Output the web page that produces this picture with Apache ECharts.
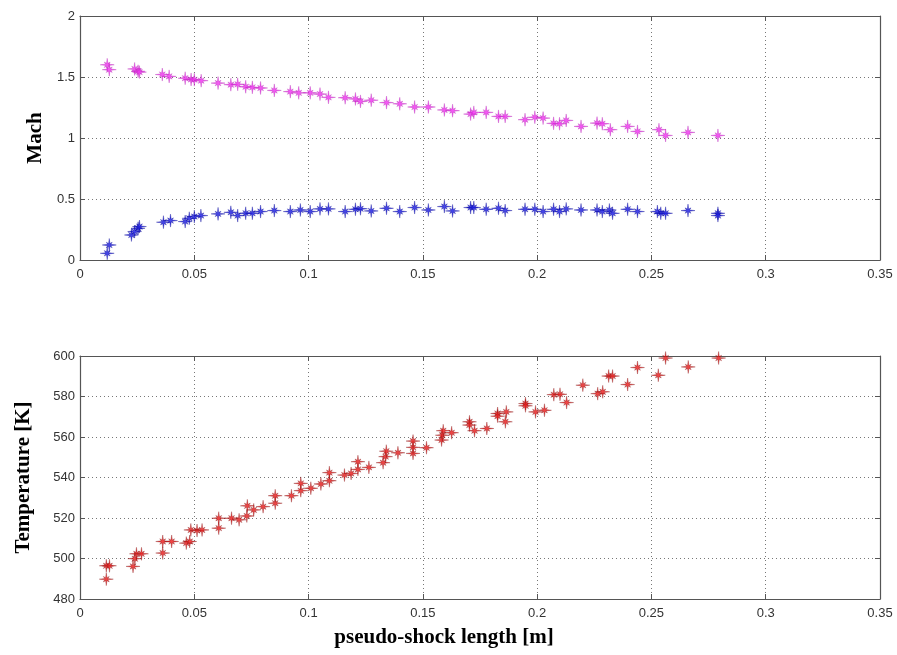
<!DOCTYPE html>
<html>
<head>
<meta charset="utf-8">
<script src="https://cdn.jsdelivr.net/npm/echarts@6/dist/echarts.min.js"></script>
<style>
  html, body { margin: 0; padding: 0; background: #fff; }
  #chart { width: 897px; height: 655px; }
</style>
</head>
<body>
<div id="chart"></div>
<script>
const machHighX = [0.0119, 0.0128, 0.0239, 0.0254, 0.026, 0.036, 0.039, 0.046, 0.0486, 0.05, 0.053, 0.0604, 0.066, 0.069, 0.0725, 0.0754, 0.079, 0.085, 0.092, 0.0957, 0.1007, 0.105, 0.1087, 0.116, 0.1205, 0.1227, 0.1274, 0.1341, 0.1399, 0.1464, 0.1524, 0.1594, 0.163, 0.1709, 0.1723, 0.1777, 0.1831, 0.186, 0.1947, 0.199, 0.2026, 0.2072, 0.2098, 0.2127, 0.2192, 0.2262, 0.2285, 0.232, 0.2396, 0.2439, 0.2533, 0.2562, 0.266, 0.2791];
const machHighY = [1.60, 1.56, 1.566, 1.547, 1.54, 1.52, 1.505, 1.49, 1.48, 1.478, 1.47, 1.45, 1.437, 1.44, 1.42, 1.415, 1.41, 1.39, 1.38, 1.37, 1.37, 1.36, 1.333, 1.33, 1.32, 1.30, 1.31, 1.29, 1.28, 1.254, 1.254, 1.23, 1.224, 1.196, 1.21, 1.21, 1.177, 1.177, 1.15, 1.17, 1.163, 1.12, 1.117, 1.144, 1.095, 1.122, 1.117, 1.068, 1.095, 1.054, 1.068, 1.021, 1.046, 1.021];

const machLowX = [0.0119, 0.0128, 0.0225, 0.0239, 0.0254, 0.026, 0.0365, 0.0396, 0.046, 0.0478, 0.05, 0.0529, 0.0604, 0.066, 0.069, 0.0725, 0.0754, 0.079, 0.085, 0.092, 0.0964, 0.1007, 0.105, 0.1087, 0.116, 0.1205, 0.1227, 0.1274, 0.1341, 0.1399, 0.1464, 0.1524, 0.1594, 0.163, 0.1709, 0.1723, 0.1777, 0.1831, 0.186, 0.1947, 0.199, 0.2026, 0.2072, 0.2098, 0.2127, 0.2192, 0.2262, 0.2285, 0.2316, 0.233, 0.2396, 0.2439, 0.2526, 0.2541, 0.2562, 0.266, 0.2791, 0.2791];
const machLowY = [0.055, 0.123, 0.205, 0.233, 0.26, 0.274, 0.31, 0.323, 0.315, 0.342, 0.356, 0.364, 0.378, 0.391, 0.364, 0.383, 0.383, 0.397, 0.405, 0.397, 0.41, 0.397, 0.419, 0.419, 0.397, 0.416, 0.42, 0.402, 0.424, 0.397, 0.43, 0.41, 0.438, 0.402, 0.43, 0.43, 0.416, 0.424, 0.405, 0.416, 0.416, 0.397, 0.416, 0.397, 0.419, 0.41, 0.41, 0.397, 0.41, 0.383, 0.416, 0.397, 0.397, 0.383, 0.383, 0.405, 0.383, 0.364];

const tempX = [0.0115, 0.0115, 0.0129, 0.0232, 0.024, 0.0247, 0.0269, 0.0362, 0.0362, 0.0401, 0.0465, 0.048, 0.0485, 0.0512, 0.0534, 0.0607, 0.0607, 0.0663, 0.0696, 0.073, 0.0732, 0.076, 0.0801, 0.0854, 0.0854, 0.0925, 0.0966, 0.0966, 0.101, 0.1054, 0.1091, 0.1091, 0.1157, 0.1186, 0.1216, 0.1216, 0.1264, 0.1326, 0.1337, 0.134, 0.1391, 0.1457, 0.1457, 0.1457, 0.1516, 0.1582, 0.1585, 0.1589, 0.1626, 0.1704, 0.1704, 0.1726, 0.178, 0.1827, 0.1827, 0.1865, 0.1861, 0.1949, 0.1949, 0.1993, 0.2032, 0.2073, 0.21, 0.2129, 0.22, 0.2265, 0.2287, 0.2313, 0.233, 0.2396, 0.2439, 0.253, 0.2562, 0.2661, 0.2794];
const tempY = [489.8, 496.4, 496.4, 496.1, 499.9, 502.3, 502.3, 502.7, 508.4, 508.4, 507.6, 508.4, 514.1, 513.8, 514.1, 515, 519.9, 519.9, 519.1, 521, 526, 524, 525.6, 527.3, 531, 531, 533.5, 537.1, 534.7, 536.8, 538.4, 542.4, 541.2, 542, 544, 547.8, 545, 547.3, 550.3, 553, 552.2, 551.9, 554.9, 558, 554.7, 558.5, 560.9, 563.1, 562.1, 567.5, 565.9, 563.1, 564.2, 571.6, 570.3, 572.4, 567.5, 576.5, 575.4, 572.4, 573.2, 580.9, 581.1, 577, 585.6, 581.4, 582.3, 590.1, 590.1, 585.9, 594.3, 590.5, 599, 594.6, 599];

const xTicks = { min: 0, max: 0.35, interval: 0.05 };
const machTicks = { min: 0, max: 2, interval: 0.5 };
const tempTicks = { min: 480, max: 600, interval: 20 };

function zip(xs, ys) {
    return xs.map((x, i) => [x, ys[i]]);
}

// matlab style '*' marker (a bit blurred / heavy like the scanned figure)
const starPath = 'path://M20,10 L12.3,11 L14.2,14.2 L11,12.3 L10,20 L9,12.3 L5.8,14.2 L7.7,11 L0,10 L7.7,9 L5.8,5.8 L9,7.7 L10,0 L11,7.7 L14.2,5.8 L12.3,9 Z';

const frameColor = '#555';
const labelStyle = { color: '#333', fontSize: 13, fontFamily: 'Liberation Sans, Arial, sans-serif' };
const nameStyle = { color: '#000', fontSize: 21, fontWeight: 'bold', fontFamily: 'Liberation Serif, Times New Roman, serif' };

function xAxisFor(gridIndex, pos, withLabels, name) {
    return {
        type: 'value', gridIndex: gridIndex, position: pos,
        min: xTicks.min, max: xTicks.max, interval: xTicks.interval,
        axisLine: { show: true, onZero: false, lineStyle: { color: frameColor, width: 1.2 } },
        axisTick: { show: true, inside: true, length: 5, lineStyle: { color: frameColor } },
        axisLabel: Object.assign({ show: withLabels, margin: 8 }, labelStyle),
        splitLine: { show: withLabels, lineStyle: { type: [1, 3], color: '#777', width: 1 } },
        name: name || '',
        nameLocation: 'middle',
        nameGap: 28,
        nameTextStyle: Object.assign({ padding: [0, 72, 0, 0] }, nameStyle)
    };
}

function yAxisFor(gridIndex, pos, ticks, withLabels, name, gap) {
    return {
        type: 'value', gridIndex: gridIndex, position: pos,
        min: ticks.min, max: ticks.max, interval: ticks.interval,
        axisLine: { show: true, onZero: false, lineStyle: { color: frameColor, width: 1.2 } },
        axisTick: { show: true, inside: true, length: 5, lineStyle: { color: frameColor } },
        axisLabel: Object.assign({ show: withLabels, margin: 5 }, labelStyle),
        splitLine: { show: withLabels, lineStyle: { type: [1, 3], color: '#777', width: 1 } },
        name: name || '',
        nameLocation: 'middle',
        nameGap: gap || 0,
        nameTextStyle: nameStyle
    };
}

function scatter(name, xi, yi, data, fill, edge) {
    return {
        name: name, type: 'scatter', xAxisIndex: xi, yAxisIndex: yi,
        data: data, symbol: starPath, symbolSize: [14, 13], clip: false,
        itemStyle: { color: fill, borderColor: edge, borderWidth: 0.4 }
    };
}

const chart = echarts.init(document.getElementById('chart'));
chart.setOption({
    backgroundColor: '#fff',
    animation: false,
    grid: [
        { left: 80, right: 17, top: 16, height: 244 },
        { left: 80, right: 17, top: 356, height: 243 }
    ],
    xAxis: [
        xAxisFor(0, 'bottom', true),
        xAxisFor(0, 'top', false),
        xAxisFor(1, 'bottom', true, 'pseudo-shock length [m]'),
        xAxisFor(1, 'top', false)
    ],
    yAxis: [
        yAxisFor(0, 'left', machTicks, true, 'Mach', 34),
        yAxisFor(0, 'right', machTicks, false),
        yAxisFor(1, 'left', tempTicks, true, 'Temperature [K]', 46),
        yAxisFor(1, 'right', tempTicks, false)
    ],
    series: [
        scatter('Mach high', 0, 0, zip(machHighX, machHighY), '#f030f0', '#b020b0'),
        scatter('Mach low', 0, 0, zip(machLowX, machLowY), '#1818e0', '#000090'),
        scatter('Temperature', 2, 2, zip(tempX, tempY), '#e81818', '#801010')
    ]
});
</script>
</body>
</html>
